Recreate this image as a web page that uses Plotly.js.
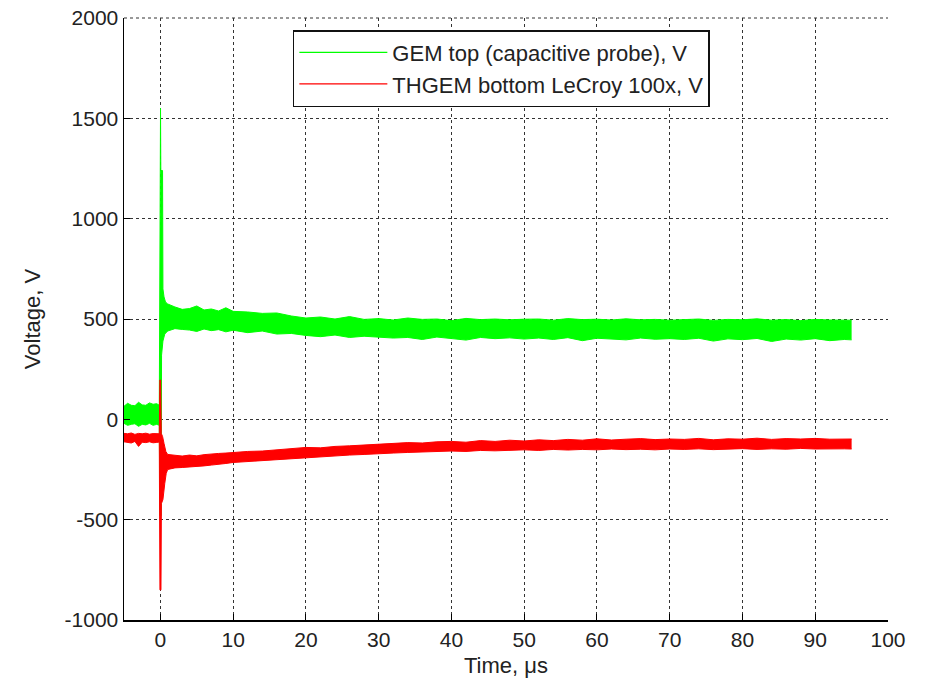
<!DOCTYPE html>
<html>
<head>
<meta charset="utf-8">
<script src="https://cdn.plot.ly/plotly-3.0.1.min.js"></script>
<style>html,body{margin:0;padding:0;background:#fff;}</style>
</head>
<body>
<div id="chart" style="width:937px;height:686px;"></div>
<script>
// ---- Data ----
const seriesNames = ["GEM top (capacitive probe), V", "THGEM bottom LeCroy 100x, V"];

// pre-trigger time points (µs)
const preX = [-5, -4.5, -4, -3.5, -3, -2.5, -2, -1.5, -1, -0.5, -0.15];
// post-trigger time points (µs)
const postX = [1,2,3,4,5,6,7,8,9,10,12,14,16,18,20,22,24,26,28,30,32,34,36,38,40,42,44,46,48,50,52,54,56,58,60,62,64,66,68,70,72,74,76,78,80,82,84,86,88,90,92,94,95];

// GEM top: noise envelope (upper / lower edges)
const gemPreUpper = [65, 80, 70, 68, 85, 72, 70, 82, 75, 78, 70];
const gemPreLower = [-20, -30, -25, -22, -35, -25, -28, -20, -30, -25, -30];
const gemSpikeUpperX = [-0.08, 0.02, 0.06, 0.3, 0.35, 0.5, 0.7];
const gemSpikeUpperY = [1550, 1550, 1240, 1240, 650, 610, 585];
const gemSpikeLowerX = [-0.06, 0.1, 0.16, 0.35, 0.6];
const gemSpikeLowerY = [-480, -480, 320, 390, 425];
const gemPostUpper = [575,560,548,552,565,545,550,540,556,538,
  535,528,530,515,505,510,500,512,498,502,
  495,505,498,500,492,503,497,500,496,499,
  500,494,502,497,499,495,501,496,498,494,
  497,500,493,498,496,501,494,497,492,498,495,496,
  494];
const gemPostLower = [440,452,448,445,438,450,442,447,436,444,
  432,440,425,428,418,412,420,408,414,410,
  405,408,398,410,404,395,408,402,406,400,
  405,398,407,392,404,400,396,405,399,402,
  398,404,390,401,397,403,388,400,395,402,392,398,
  396];

// THGEM bottom: noise envelope (upper / lower edges)
const thgemPreUpper = [-70, -72, -68, -75, -70, -72, -69, -74, -71, -70, -72];
const thgemPreLower = [-112, -115, -118, -110, -135, -114, -116, -112, -117, -115, -113];
const thgemSpikeUpperX = [-0.08, 0.04, 0.12, 0.3, 0.5, 0.75];
const thgemSpikeUpperY = [196, 196, -70, -85, -120, -160];
const thgemSpikeLowerX = [-0.06, 0.08, 0.14, 0.35, 0.6, 0.8];
const thgemSpikeLowerY = [-850, -850, -420, -400, -320, -270];
const thgemPostUpper = [-175,-180,-183,-178,-182,-176,-172,-170,-168,-165,
  -160,-158,-152,-148,-140,-142,-135,-132,-128,-122,
  -120,-116,-118,-112,-110,-114,-106,-110,-104,-108,
  -102,-106,-100,-104,-97,-103,-99,-96,-101,-98,
  -100,-95,-102,-97,-99,-94,-100,-96,-98,-95,-99,-97,
  -98];
const thgemPostLower = [-250,-242,-240,-238,-236,-232,-228,-225,-220,-215,
  -210,-205,-200,-196,-190,-186,-182,-178,-175,-170,
  -168,-165,-163,-160,-158,-160,-155,-157,-154,-152,
  -155,-150,-153,-150,-152,-148,-151,-149,-152,-148,
  -150,-147,-151,-148,-146,-150,-147,-149,-145,-148,-146,-147,
  -148];

const xTickVals = [0,10,20,30,40,50,60,70,80,90,100];
const yTickVals = [-1000,-500,0,500,1000,1500,2000];
const colors = ['#00ff00', '#ff0000'];

// ---- Build traces ----
function band(name, color, preU, preL, sUx, sUy, sLx, sLy, postU, postL, group) {
  const lowerX = preX.concat(sLx, postX);
  const lowerY = preL.concat(sLy, postL);
  const upperX = preX.concat(sUx, postX);
  const upperY = preU.concat(sUy, postU);
  return [
    // legend entry (plain line)
    {x: [null], y: [null], type: 'scatter', mode: 'lines', name: name,
     legendgroup: group, line: {color: color, width: 1.2}, showlegend: true, hoverinfo: 'skip'},
    {x: lowerX, y: lowerY, type: 'scatter', mode: 'lines', name: name,
     legendgroup: group, line: {color: color, width: 1}, showlegend: false, hoverinfo: 'skip'},
    {x: upperX, y: upperY, type: 'scatter', mode: 'lines', name: name,
     legendgroup: group, line: {color: color, width: 1}, fill: 'tonexty',
     fillcolor: color, showlegend: false, hoverinfo: 'skip'}
  ];
}

const traces = [].concat(
  band(seriesNames[0], colors[0], gemPreUpper, gemPreLower, gemSpikeUpperX, gemSpikeUpperY,
       gemSpikeLowerX, gemSpikeLowerY, gemPostUpper, gemPostLower, 'g1'),
  band(seriesNames[1], colors[1], thgemPreUpper, thgemPreLower, thgemSpikeUpperX, thgemSpikeUpperY,
       thgemSpikeLowerX, thgemSpikeLowerY, thgemPostUpper, thgemPostLower, 'g2')
);

const font = 'Liberation Sans, Arial, Helvetica, sans-serif';
const layout = {
  width: 937, height: 686,
  margin: {l: 124, r: 49, t: 18, b: 66},
  paper_bgcolor: '#fff', plot_bgcolor: '#fff',
  font: {family: font, size: 21, color: '#222'},
  xaxis: {
    range: [-5, 100], tickvals: xTickVals, ticktext: xTickVals.map(String),
    showgrid: true, gridcolor: '#333', griddash: 'dot', gridwidth: 1,
    zeroline: false, showline: true, linecolor: '#000', linewidth: 1.5,
    ticks: 'inside', ticklen: 6, tickcolor: '#000', tickwidth: 1,
    tickfont: {size: 21, family: font, color: '#222'},
    title: {text: 'Time, μs', font: {size: 22, family: font, color: '#222'}, standoff: 8}
  },
  yaxis: {
    range: [-1000, 2000], tickvals: yTickVals, ticktext: yTickVals.map(String),
    showgrid: true, gridcolor: '#333', griddash: 'dot', gridwidth: 1,
    zeroline: false, showline: true, linecolor: '#000', linewidth: 1.5,
    ticks: 'inside', ticklen: 6, tickcolor: '#000', tickwidth: 1,
    tickfont: {size: 21, family: font, color: '#222'},
    title: {text: 'Voltage, V', font: {size: 22, family: font, color: '#222'}, standoff: 18}
  },
  legend: {
    x: 0.221, y: 0.98, xanchor: 'left', yanchor: 'top',
    bgcolor: '#fff', bordercolor: '#111', borderwidth: 1.5,
    font: {size: 22, family: font, color: '#222'},
    itemwidth: 88, traceorder: 'grouped', tracegroupgap: 0
  },
  shapes: [
    {type: 'line', xref: 'paper', yref: 'paper', x0: 0, x1: 1, y0: 1, y1: 1,
     line: {color: '#333', width: 1, dash: 'dot'}, layer: 'below'}
  ],
  showlegend: true
};

Plotly.newPlot('chart', traces, layout, {displayModeBar: false, staticPlot: true});
</script>
</body>
</html>
